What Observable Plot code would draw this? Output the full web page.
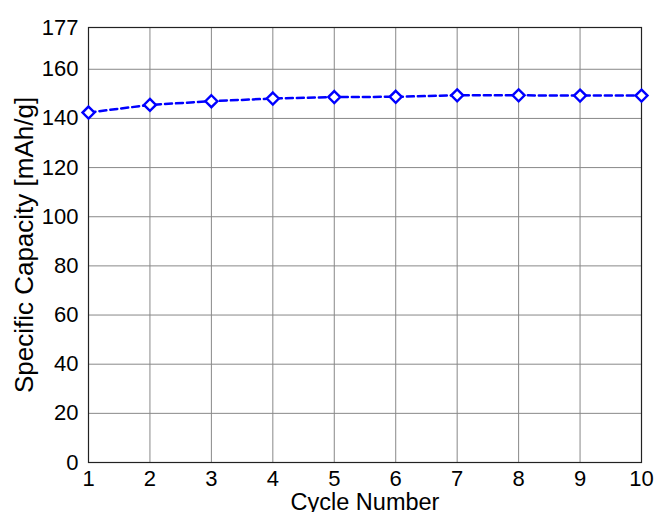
<!DOCTYPE html>
<html><head><meta charset="utf-8">
<script src="https://cdn.jsdelivr.net/npm/d3@7"></script>
<script src="https://cdn.jsdelivr.net/npm/@observablehq/plot@0.6"></script>
<style>body{margin:0;background:#fff;} svg{font-family:"Liberation Sans",Arial,sans-serif;}</style>
</head><body><div id="chart"></div>
<script>
const cycles = [1,2,3,4,5,6,7,8,9,10];
const capacity = [142.4,145.5,147.0,148.1,148.7,148.8,149.4,149.4,149.3,149.3];
const yTicks = [0,20,40,60,80,100,120,140,160,177];
const xTicks = [1,2,3,4,5,6,7,8,9,10];
const data = cycles.map((c,i)=>({cycle:c, cap:capacity[i]}));

const chart = Plot.plot({
  width: 656, height: 512,
  marginLeft: 88, marginRight: 15, marginTop: 27, marginBottom: 50,
  style: {fontFamily: "Liberation Sans, Arial, sans-serif", fontSize: "22px", color: "#000", background: "#fff"},
  x: {domain: [1,10], label: null},
  y: {domain: [0,177], label: null},
  marks: [
    Plot.gridX(xTicks, {stroke: "#888", strokeOpacity: 1, strokeWidth: 1}),
    Plot.gridY(yTicks, {stroke: "#888", strokeOpacity: 1, strokeWidth: 1}),
    Plot.frame({stroke: "#222", strokeWidth: 1.2}),
    Plot.axisX({ticks: xTicks, tickSize: 0, tickPadding: 8, fontSize: 22, tickFormat: d=>String(d), label: null}),
    Plot.axisY({ticks: yTicks, tickSize: 0, tickPadding: 10, fontSize: 22, label: null}),
    Plot.line(data, {x: "cycle", y: "cap", stroke: "#0000ff", strokeWidth: 2.5, strokeDasharray: "7,4"}),
    Plot.dot(data, {x: "cycle", y: "cap", symbol: "diamond2", r: 5.4, fill: "#fff", stroke: "#0000ff", strokeWidth: 2.4}),
    Plot.text(["Cycle Number"], {frameAnchor: "bottom", lineAnchor: "middle", dy: 40, fontSize: 23.5, text: d=>d}),
    Plot.text(["Specific Capacity [mAh/g]"], {frameAnchor: "left", textAnchor: "middle", lineAnchor: "middle", dx: -64, rotate: -90, fontSize: 26, text: d=>d})
  ]
});
document.getElementById("chart").appendChild(chart);
</script></body></html>
